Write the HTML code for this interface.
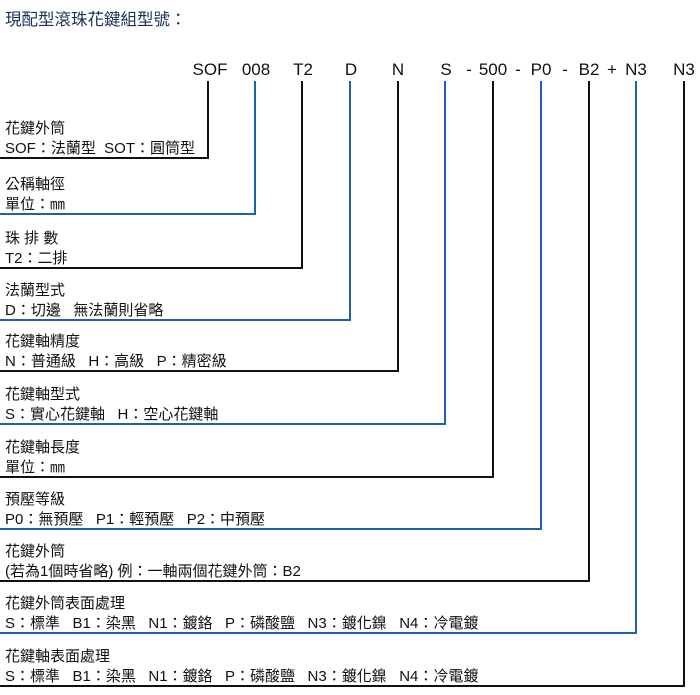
<!DOCTYPE html>
<html><head><meta charset="utf-8"><style>
body{margin:0;width:700px;height:695px;background:#fff;position:relative;overflow:hidden;font-family:"Liberation Sans","Noto Sans CJK TC",sans-serif;color:#111}
.t{position:absolute;white-space:nowrap}
.c{position:absolute;top:60px;font-size:17px;transform:translateX(-50%)}
.v{position:absolute;top:81px;width:2px}
.h{position:absolute;left:0;height:2px}
.l{position:absolute;left:5px;font-size:15px;line-height:20px;white-space:nowrap}
.k{background:#111}.b{background:#1f5fb0}
</style></head><body>
<div class="t" style="left:5px;top:6px;font-size:16.5px;color:#1a2f5a">現配型滾珠花鍵組型號：</div>
<div class="c" style="left:210px">SOF</div>
<div class="c" style="left:256px">008</div>
<div class="c" style="left:303px">T2</div>
<div class="c" style="left:351px">D</div>
<div class="c" style="left:398px">N</div>
<div class="c" style="left:446px">S</div>
<div class="c" style="left:469px">-</div>
<div class="c" style="left:493px">500</div>
<div class="c" style="left:518px">-</div>
<div class="c" style="left:541px">P0</div>
<div class="c" style="left:565px">-</div>
<div class="c" style="left:589px">B2</div>
<div class="c" style="left:612px">+</div>
<div class="c" style="left:636px">N3</div>
<div class="c" style="left:684px">N3</div>

<div class="v k" style="left:207px;height:78px"></div><div class="h k" style="top:157px;width:209px"></div>
<div class="v b" style="left:254px;height:134px"></div><div class="h b" style="top:213px;width:256px"></div>
<div class="v k" style="left:301px;height:188px"></div><div class="h k" style="top:267px;width:303px"></div>
<div class="v b" style="left:349px;height:240px"></div><div class="h b" style="top:319px;width:351px"></div>
<div class="v k" style="left:397px;height:291px"></div><div class="h k" style="top:370px;width:399px"></div>
<div class="v b" style="left:444px;height:344px"></div><div class="h b" style="top:423px;width:446px"></div>
<div class="v k" style="left:492px;height:397px"></div><div class="h k" style="top:476px;width:494px"></div>
<div class="v b" style="left:540px;height:449px"></div><div class="h b" style="top:528px;width:542px"></div>
<div class="v k" style="left:588px;height:501px"></div><div class="h k" style="top:580px;width:590px"></div>
<div class="v b" style="left:635px;height:553px"></div><div class="h b" style="top:632px;width:637px"></div>
<div class="v k" style="left:683px;height:606px"></div><div class="h k" style="top:685px;width:685px"></div>

<div class="l" style="top:119px">花鍵外筒<br>SOF：法蘭型&nbsp; SOT：圓筒型</div>
<div class="l" style="top:175px">公稱軸徑<br>單位：㎜</div>
<div class="l" style="top:229px">珠 排 數<br>T2：二排</div>
<div class="l" style="top:281px">法蘭型式<br>D：切邊&nbsp;&nbsp; 無法蘭則省略</div>
<div class="l" style="top:332px">花鍵軸精度<br>N：普通級&nbsp;&nbsp; H：高級&nbsp;&nbsp; P：精密級</div>
<div class="l" style="top:385px">花鍵軸型式<br>S：實心花鍵軸&nbsp;&nbsp; H：空心花鍵軸</div>
<div class="l" style="top:438px">花鍵軸長度<br>單位：㎜</div>
<div class="l" style="top:490px">預壓等級<br>P0：無預壓&nbsp;&nbsp; P1：輕預壓&nbsp;&nbsp; P2：中預壓</div>
<div class="l" style="top:542px">花鍵外筒<br>(若為1個時省略) 例：一軸兩個花鍵外筒：B2</div>
<div class="l" style="top:594px">花鍵外筒表面處理<br>S：標準&nbsp;&nbsp; B1：染黑&nbsp;&nbsp; N1：鍍鉻&nbsp;&nbsp; P：磷酸鹽&nbsp;&nbsp; N3：鍍化鎳&nbsp;&nbsp; N4：冷電鍍</div>
<div class="l" style="top:647px">花鍵軸表面處理<br>S：標準&nbsp;&nbsp; B1：染黑&nbsp;&nbsp; N1：鍍鉻&nbsp;&nbsp; P：磷酸鹽&nbsp;&nbsp; N3：鍍化鎳&nbsp;&nbsp; N4：冷電鍍</div>
</body></html>
